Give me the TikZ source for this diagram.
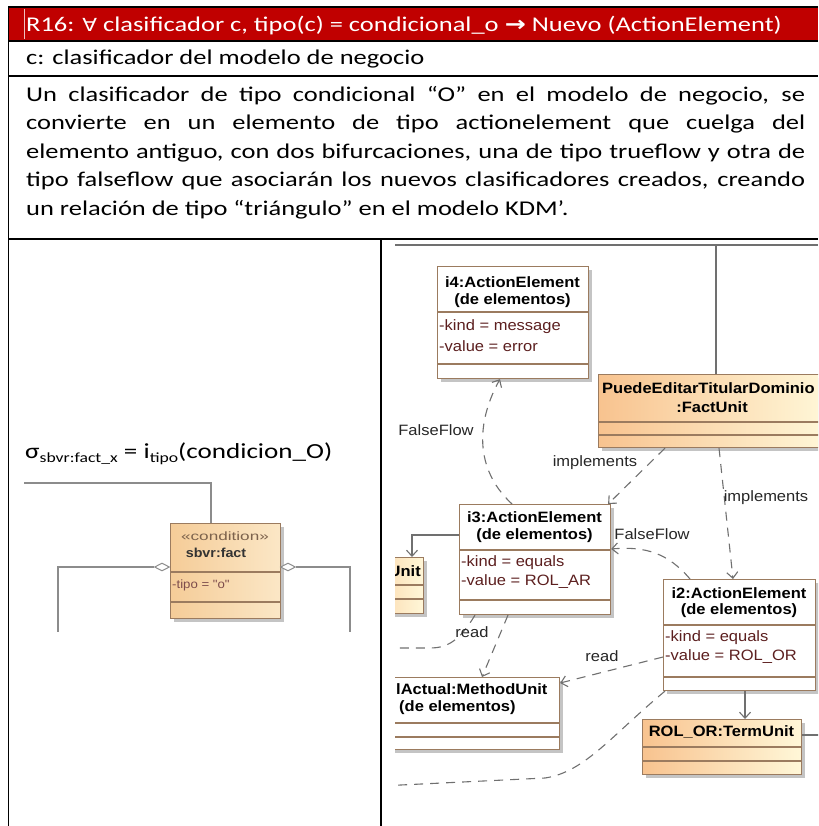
\documentclass[tikz,border=0pt]{standalone}
\usepackage{fontspec}
\setmainfont[FakeStretch=1.26]{Carlito}
\newfontfamily\umlfont[FakeStretch=1.1]{Liberation Sans}
\newfontfamily\symfont[FakeStretch=1.2]{DejaVu Sans}
\usetikzlibrary{arrows.meta,shapes.geometric,shadows}

\definecolor{hdrred}{HTML}{C00000}
\definecolor{umlbrd}{HTML}{9B7B5F}
\definecolor{umlgray}{HTML}{707070}
\definecolor{attrc}{HTML}{5C1F1F}
\definecolor{peach}{HTML}{F8C38F}
\definecolor{cream}{HTML}{FFF7D8}
\definecolor{shadowc}{HTML}{C4C4C4}
\definecolor{condfillL}{HTML}{F5CC98}
\definecolor{condfillR}{HTML}{FBE7C6}

\tikzset{
  tbl/.style={line width=1.5pt, draw=black},
  bodytxt/.style={anchor=base west, inner sep=0pt, font=\fontsize{21}{25}\selectfont},
  umlbox/.style={draw=umlbrd, line width=1.1pt, inner sep=0pt, anchor=north west,
    drop shadow={shadow xshift=3pt, shadow yshift=-3pt, fill=shadowc, opacity=1}},
  whitebox/.style={umlbox, fill=white},
  unitbox/.style={umlbox, left color=peach, right color=cream},
  compsep/.style={draw=umlbrd, line width=1.1pt},
  boxname/.style={font=\umlfont\bfseries\fontsize{15}{17}\selectfont, inner sep=0pt},
  attr/.style={anchor=west, text=attrc, font=\umlfont\fontsize{15}{17}\selectfont, inner sep=0pt},
  lbl/.style={text=black!85, font=\umlfont\fontsize{15}{17}\selectfont, inner sep=0pt},
  dep/.style={draw=umlgray, line width=1.1pt, dash pattern=on 9pt off 7pt},
  solidc/.style={draw=umlgray, line width=1.1pt},
  openarrow/.style={-{Straight Barb[length=6pt,width=11pt]}},
  lgline/.style={draw=black!45, line width=1.5pt},
}

\begin{document}
\begin{tikzpicture}[x=1pt,y=-1pt]
\useasboundingbox (0,0) rectangle (818,826);

% ---------- table frame ----------
\fill[hdrred] (8.5,7) rectangle (818,41);
\draw[white!75!hdrred, line width=0.6pt] (24,9) -- (24,39);
\draw[tbl] (8.5,7) -- (818,7);
\draw[tbl] (8.5,41) -- (818,41);
\draw[tbl] (8.5,76) -- (818,76);
\draw[tbl] (8.5,239) -- (818,239);
\draw[tbl] (8.5,6.25) -- (8.5,826);
\draw[tbl] (381,239) -- (381,826);

% ---------- rule text ----------
\node[bodytxt, text=white] (hdr) at (26,32)
  {R16: {\symfont\fontsize{18}{22}\selectfont ∀} clasificador c, tipo(c) = condicional\_o {\symfont\bfseries →} Nuevo (ActionElement)};
\node[bodytxt] (cdef) at (26,65) {c: clasificador del modelo de negocio};
\node[bodytxt] (p1) at (26,101.5) {\makebox[779pt][s]{Un clasificador de tipo condicional “O” en el modelo de negocio, se}};
\node[bodytxt] (p2) at (26,130) {\makebox[779pt][s]{convierte en un elemento de tipo actionelement que cuelga del}};
\node[bodytxt] (p3) at (26,158.5) {\makebox[779pt][s]{elemento antiguo, con dos bifurcaciones, una de tipo trueflow y otra de}};
\node[bodytxt] (p4) at (26,187) {\makebox[779pt][s]{tipo falseflow que asociarán los nuevos clasificadores creados, creando}};
\node[bodytxt] (p5) at (26,215.5) {un relación de tipo “triángulo” en el modelo KDM’.};

% ---------- left cell: business-model classifier ----------
\node[anchor=base west, inner sep=0pt, font=\fontsize{21.5}{26}\selectfont] (sig) at (25,458)
  {σ\raisebox{-4pt}{\fontsize{14}{16}\selectfont sbvr:fact\_x} = i\raisebox{-4pt}{\fontsize{14}{16}\selectfont tipo}(condicion\_O)};

\node[umlbox, left color=condfillL, right color=condfillR, minimum width=110pt, minimum height=95pt] (cond) at (170,523) {};
\draw[compsep] (170,572) -- (280,572);
\draw[compsep] (170,602) -- (280,602);
\node[inner sep=0pt, text=umlbrd!80!black, font=\umlfont\fontsize{12}{14}\selectfont] (condst) at (225,536) {\scalebox{1.3}[1]{«condition»}};
\node[inner sep=0pt, text=black!80, font=\umlfont\bfseries\fontsize{13}{15}\selectfont] (condnm) at (216,553) {sbvr:fact};
\node[anchor=west, inner sep=0pt, text=attrc!80, font=\umlfont\fontsize{12}{14}\selectfont] (condat) at (172,585) {-tipo = "o"};

\node[diamond, draw=black!45, fill=white, line width=1pt, minimum width=15pt, minimum height=8pt, inner sep=0pt] (dl) at (162,567) {};
\node[diamond, draw=black!45, fill=white, line width=1pt, minimum width=15pt, minimum height=8pt, inner sep=0pt] (dr) at (288,567) {};
\coordinate (ltop) at (24,483);
\coordinate (lbot) at (58,632);
\coordinate (rbot) at (350,632);
\draw[lgline] (ltop) -| ([xshift=41pt]cond.north west);
\draw[lgline] (dl.west) -| (lbot);
\draw[lgline] (dr.east) -| (rbot);

% ---------- right cell: KDM model ----------
\begin{scope}
\clip (395,243) rectangle (818,826);

\coordinate (frL) at (393,245);
\coordinate (frR) at (818,245);
\coordinate (frJ) at (716,245);
\draw[solidc] (frL) -- (frR);

% boxes
\node[whitebox, minimum width=151pt, minimum height=112pt] (i4) at (437,266) {};
\draw[compsep] (437,312) -- (588,312);
\draw[compsep] (437,364) -- (588,364);

\node[unitbox, minimum width=228pt, minimum height=73pt] (fu) at (598,374) {};
\draw[compsep] (598,422) -- (826,422);
\draw[compsep] (598,435) -- (826,435);

\node[whitebox, minimum width=151pt, minimum height=110pt] (i3) at (459,504) {};
\draw[compsep] (459,550) -- (610,550);
\draw[compsep] (459,600) -- (610,600);

\node[unitbox, minimum width=83pt, minimum height=56pt] (ub) at (340,557) {};
\draw[compsep] (340,585) -- (423,585);
\draw[compsep] (340,599) -- (423,599);

\node[whitebox, minimum width=152pt, minimum height=111pt] (i2) at (663,579) {};
\draw[compsep] (663,625) -- (815,625);
\draw[compsep] (663,677) -- (815,677);

\node[whitebox, minimum width=192pt, minimum height=72pt] (mu) at (367,677) {};
\draw[compsep] (367,723) -- (559,723);
\draw[compsep] (367,737) -- (559,737);

\node[unitbox, minimum width=159pt, minimum height=55pt] (rol) at (642,719) {};
\draw[compsep] (642,747) -- (801,747);
\draw[compsep] (642,761) -- (801,761);

% box texts
\node[boxname] (i4a) at (512.5,282) {i4:ActionElement};
\node[boxname] (i4b) at (512.5,301) {(de elementos)};
\node[attr] (i4c) at (439,327) {-kind = message};
\node[attr] (i4d) at (439,346) {-value = error};

\node[boxname, anchor=west] (fua) at (602,388) {PuedeEditarTitularDominio};
\node[boxname] (fub) at (712,407) {:FactUnit};

\node[boxname] (i3a) at (534.5,517) {i3:ActionElement};
\node[boxname] (i3b) at (534.5,536) {(de elementos)};
\node[attr] (i3c) at (461,563) {-kind = equals};
\node[attr] (i3d) at (461,582) {-value = ROL\_AR};

\node[boxname, anchor=east] (uba) at (421,571) {Unit};

\node[boxname] (i2a) at (739,593) {i2:ActionElement};
\node[boxname] (i2b) at (739,611) {(de elementos)};
\node[attr] (i2c) at (665,638) {-kind = equals};
\node[attr] (i2d) at (665,657) {-value = ROL\_OR};

\node[boxname, anchor=west] (mua) at (396,689) {lActual:MethodUnit};
\node[boxname, anchor=west] (mub) at (399,708) {(de elementos)};

\node[boxname] (rola) at (721.5,732) {ROL\_OR:TermUnit};

% connectors
\draw[solidc] (frJ) -- ([xshift=118pt]fu.north west);

\draw[dep, openarrow] ([xshift=53pt]i3.north west) .. controls (470,465) and (480,415) .. ([xshift=63pt]i4.south west);
\node[lbl] (ff1) at (436,430) {FalseFlow};

\draw[dep, openarrow] ([xshift=67pt]fu.south west) -- ([xshift=-3pt]i3.north east);
\node[lbl] (im1) at (595,463) {implements};

\draw[dep, openarrow] ([xshift=121pt]fu.south west) -- ([xshift=70pt]i2.north west);
\node[lbl] (im2) at (766,498) {implements};

\draw[dep, openarrow] ([xshift=27pt]i2.north west) .. controls (668,553) and (645,546) .. ([yshift=-45pt]i3.north east);
\node[lbl] (ff2) at (652,534) {FalseFlow};

\draw[solidc, openarrow] ([yshift=-31pt]i3.north west) -| ([xshift=72pt]ub.north west);

\draw[dep, openarrow] ([xshift=49pt]i3.south west) -- ([xshift=115pt]mu.north west);
\coordinate (rdL) at (380,648);
\draw[dep] ([xshift=16pt]i3.south west) .. controls (460,640) and (448,648) .. (430,648) -- (rdL);
\node[lbl] (rd1) at (472,632) {read};

\draw[dep, openarrow] ([yshift=-78pt]i2.north west) -- ([yshift=-6pt]mu.north east);
\node[lbl] (rd2) at (602,656) {read};

\coordinate (btL) at (380,786);
\draw[dep] ([xshift=2pt]i2.south west) .. controls (612,735) and (585,772) .. (545,778) -- (btL);

\draw[solidc, openarrow] ([xshift=82pt]i2.south west) -- ([xshift=103pt]rol.north west);
\coordinate (rolR) at (830,735);
\draw[solidc] ([yshift=-16pt]rol.north east) -- (rolR);
\end{scope}
\end{tikzpicture}
\end{document}
